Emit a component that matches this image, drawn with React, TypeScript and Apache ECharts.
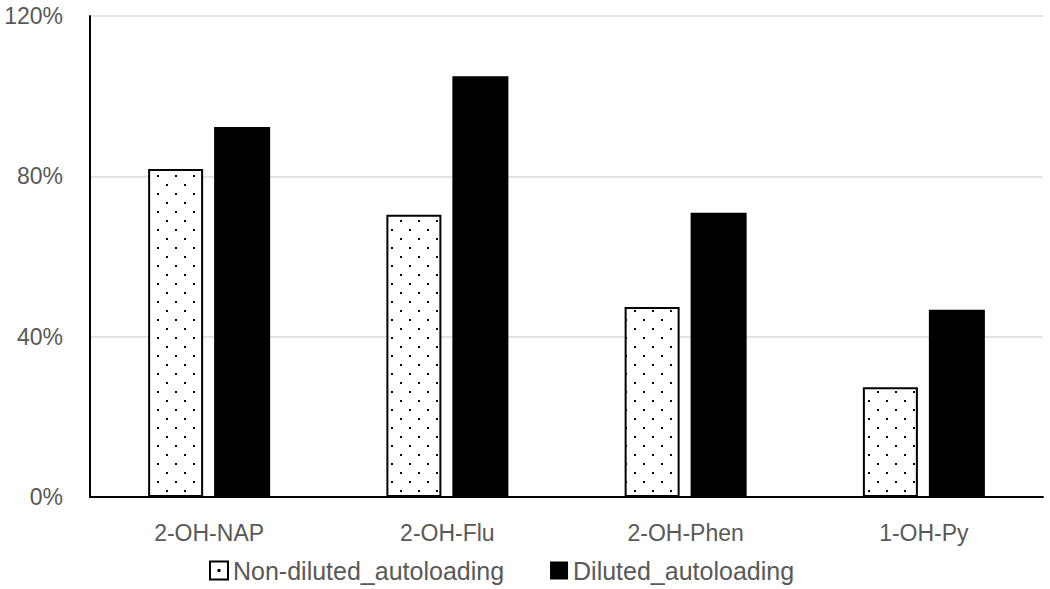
import React, { useEffect, useRef } from "react";
import * as echarts from "echarts";

const categories = ["2-OH-NAP", "2-OH-Flu", "2-OH-Phen", "1-OH-Py"];
const nonDiluted = [81.8, 70.4, 47.4, 27.4];
const diluted = [92.3, 105.0, 70.9, 46.7];
const seriesNames = ["Non-diluted_autoloading", "Diluted_autoloading"];

function makeDots(): HTMLCanvasElement {
  const c = document.createElement("canvas");
  c.width = 18;
  c.height = 18;
  const ctx = c.getContext("2d")!;
  ctx.fillStyle = "#ffffff";
  ctx.fillRect(0, 0, 18, 18);
  ctx.fillStyle = "#000000";
  ctx.fillRect(4, 4, 2, 2);
  ctx.fillRect(13, 13, 2, 2);
  return c;
}

export default function App() {
  const ref = useRef<HTMLDivElement>(null);
  useEffect(() => {
    document.body.style.margin = "0";
    const chart = echarts.init(ref.current!, null, { renderer: "svg" });
    const font = "'Liberation Sans', Arial, sans-serif";
    chart.setOption({
      animation: false,
      backgroundColor: "#ffffff",
      textStyle: { fontFamily: font },
      grid: { left: 90, right: 7, top: 16, bottom: 92, containLabel: false },
      legend: {
        top: 553,
        left: 204,
        itemWidth: 18,
        itemHeight: 18,
        itemGap: 46,
        textStyle: { fontSize: 25, color: "#595959", fontFamily: font },
        data: [
          {
            name: seriesNames[0],
            icon: "path://M0,0H18V18H0Z M8.5,8.5H9.5V9.5H8.5Z",
            itemStyle: { color: "#ffffff", borderColor: "#000", borderWidth: 2 },
          },
          {
            name: seriesNames[1],
            icon: "rect",
            itemStyle: { color: "#000", borderColor: "#000", borderWidth: 0 },
          },
        ],
      },
      xAxis: {
        type: "category",
        data: categories,
        axisLine: { lineStyle: { color: "#000", width: 2 } },
        axisTick: { show: false },
        axisLabel: { fontSize: 23, color: "#595959", margin: 24 },
      },
      yAxis: {
        type: "value",
        min: 0,
        max: 120,
        interval: 40,
        axisLine: { show: true, lineStyle: { color: "#000", width: 2 } },
        axisTick: { show: false },
        axisLabel: { formatter: "{value}%", fontSize: 23, color: "#595959", margin: 27 },
        splitLine: { lineStyle: { color: "#d9d9d9", width: 1.5 } },
      },
      series: [
        {
          name: seriesNames[0],
          type: "bar",
          data: nonDiluted,
          barWidth: 55,
          barGap: "20%",
          itemStyle: {
            color: { image: makeDots(), repeat: "repeat" },
            borderColor: "#000",
            borderWidth: 2,
          },
        },
        {
          name: seriesNames[1],
          type: "bar",
          data: diluted,
          barWidth: 56,
          itemStyle: { color: "#000", borderColor: "#000", borderWidth: 2 },
        },
      ],
    });
    return () => chart.dispose();
  }, []);
  return <div ref={ref} style={{ width: 1050, height: 589 }} />;
}
